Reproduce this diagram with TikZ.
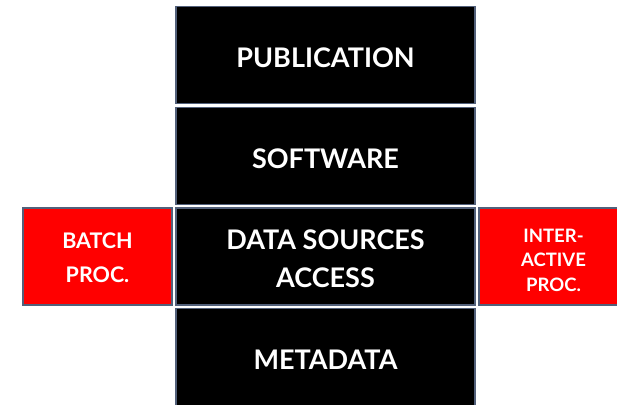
\documentclass[tikz,border=0pt]{standalone}
\usepackage{fontspec}
\setmainfont{Lato}
\usepackage{tikz}
\definecolor{edgegray}{RGB}{82,96,122}
% invisible rule that pushes the first line of a box down a little
\newcommand{\liftcap}[1]{\rule{0pt}{#1}}
\tikzset{
	layerbox/.style={draw=edgegray, line width=1.5pt, fill=black, text=white,
		minimum width=299pt, minimum height=97pt, inner sep=0pt, align=center,
		font=\fontsize{27}{38}\selectfont\bfseries},
	procbox/.style={draw=edgegray, line width=1.5pt, fill=red, text=white,
		minimum width=149pt, minimum height=97pt, inner sep=0pt, align=center}
}

\begin{document}
\begin{tikzpicture}[x=1pt, y=-1pt]
			%%%%% START %%%%%
			
			\useasboundingbox (0, 0) rectangle (617, 404);
			
			% the stack of layers
			\node[layerbox] (publication) at (325.5, 55) {\liftcap{0.9em}PUBLICATION};
			\node[layerbox] (software) at (325.5, 156) {\liftcap{0.9em}SOFTWARE};
			\node[layerbox] (access) at (325.5, 256.5) {\liftcap{0.9em}DATA SOURCES\\ACCESS};
			\node[layerbox] (metadata) at (325.5, 357) {\liftcap{0.9em}METADATA};
			
			% processing modes on both sides
			\node[procbox, font=\fontsize{21.5}{34}\selectfont\bfseries] (batch) at (97.5, 256.5) {\liftcap{0.81em}BATCH\\PROC.};
			\node[procbox, font=\fontsize{18.5}{24.5}\selectfont\bfseries] (interactive) at (553.5, 256.5) {\liftcap{1.1em}INTER-\\ACTIVE\\PROC.};
			
			%%%%% END %%%%%
\end{tikzpicture}
\end{document}
